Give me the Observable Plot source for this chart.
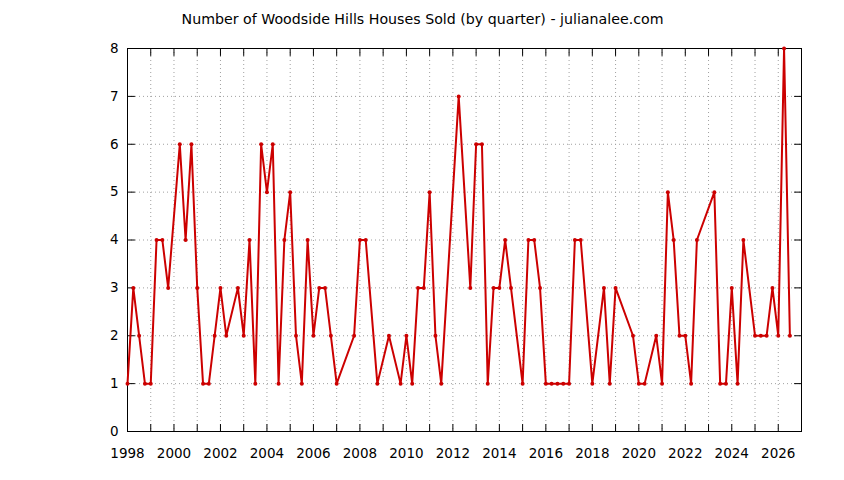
<!DOCTYPE html>
<html>
<head>
<meta charset="utf-8">
<script src="https://cdn.jsdelivr.net/npm/d3@7"></script>
<script src="https://cdn.jsdelivr.net/npm/@observablehq/plot@0.6"></script>
<style>
  html, body { margin: 0; padding: 0; background: white; }
</style>
</head>
<body>
<div id="chart"></div>
<script>
const title = "Number of Woodside Hills Houses Sold (by quarter) - julianalee.com";

const periods = [
  "1998 Q1","1998 Q2","1998 Q3","1998 Q4",
  "1999 Q1","1999 Q2","1999 Q3","1999 Q4",
  "2000 Q2","2000 Q3","2000 Q4",
  "2001 Q1","2001 Q2","2001 Q3","2001 Q4",
  "2002 Q1","2002 Q2","2002 Q4",
  "2003 Q1","2003 Q2","2003 Q3","2003 Q4",
  "2004 Q1","2004 Q2","2004 Q3","2004 Q4",
  "2005 Q1","2005 Q2","2005 Q3","2005 Q4",
  "2006 Q1","2006 Q2","2006 Q3","2006 Q4",
  "2007 Q1","2007 Q4",
  "2008 Q1","2008 Q2","2008 Q4",
  "2009 Q2","2009 Q4",
  "2010 Q1","2010 Q2","2010 Q3","2010 Q4",
  "2011 Q1","2011 Q2","2011 Q3",
  "2012 Q2","2012 Q4",
  "2013 Q1","2013 Q2","2013 Q3","2013 Q4",
  "2014 Q1","2014 Q2","2014 Q3",
  "2015 Q1","2015 Q2","2015 Q3","2015 Q4",
  "2016 Q1","2016 Q2","2016 Q3","2016 Q4",
  "2017 Q1","2017 Q2","2017 Q3",
  "2018 Q1","2018 Q3","2018 Q4",
  "2019 Q1","2019 Q4",
  "2020 Q1","2020 Q2","2020 Q4",
  "2021 Q1","2021 Q2","2021 Q3","2021 Q4",
  "2022 Q1","2022 Q2","2022 Q3",
  "2023 Q2","2023 Q3","2023 Q4",
  "2024 Q1","2024 Q2","2024 Q3",
  "2025 Q1","2025 Q2","2025 Q3","2025 Q4",
  "2026 Q1","2026 Q2","2026 Q3"
];

const sold = [
  1,3,2,1,
  1,4,4,3,
  6,4,6,
  3,1,1,2,
  3,2,3,
  2,4,1,6,
  5,6,1,4,
  5,2,1,4,
  2,3,3,2,
  1,2,
  4,4,1,
  2,1,
  2,1,3,3,
  5,2,1,
  7,3,
  6,6,1,3,
  3,4,3,
  1,4,4,3,
  1,1,1,1,
  1,4,4,
  1,3,1,
  3,2,
  1,1,2,
  1,5,4,2,
  2,1,4,
  5,1,1,
  3,1,4,
  2,2,2,3,
  2,8,2
];

const yearTicks = d3.range(1998, 2028);
const yTicks = [0,1,2,3,4,5,6,7,8];
const yGrid = [1,2,3,4,5,6,7];

const data = periods.map((p, i) => {
  const [yr, q] = p.split(" Q");
  return { t: +yr + (+q - 1) / 4, v: sold[i] };
});

const red = "#cc0000";
const gridStyle = { stroke: "#a0a0a0", strokeOpacity: 1, strokeDasharray: "1,3" };
const tickShape = { draw(context, l) { context.moveTo(0, 0); context.lineTo(0, -l); } };
const tickStyle = { length: 7, anchor: "start", shape: tickShape, stroke: "black", strokeWidth: 1 };

const chart = Plot.plot({
  width: 844,
  height: 480,
  marginLeft: 127,
  marginRight: 43,
  marginTop: 48,
  marginBottom: 49,
  style: { fontFamily: "'DejaVu Sans', sans-serif", fontSize: "13.5px", background: "white", color: "black" },
  x: { domain: [1998, 2027], label: null },
  y: { domain: [0, 8], label: null },
  marks: [
    Plot.gridX(yearTicks.slice(1), gridStyle),
    Plot.gridY(yGrid, gridStyle),
    Plot.axisX(yearTicks, { anchor: "bottom", tickSize: 0, tickPadding: 16.5, tickFormat: d => d % 2 === 0 ? String(d) : "", label: null }),
    Plot.axisY(yTicks, { anchor: "left", tickSize: 0, tickPadding: 9, tickFormat: d => String(d), label: null }),
    Plot.vector(yearTicks, { x: d => d, frameAnchor: "bottom", rotate: 0, ...tickStyle }),
    Plot.vector(yearTicks, { x: d => d, frameAnchor: "top", rotate: 180, ...tickStyle }),
    Plot.vector(yTicks, { y: d => d, frameAnchor: "left", rotate: 90, ...tickStyle }),
    Plot.vector(yTicks, { y: d => d, frameAnchor: "right", rotate: -90, ...tickStyle }),
    Plot.frame({ stroke: "black", strokeWidth: 1 }),
    Plot.line(data, { x: "t", y: "v", stroke: red, strokeWidth: 2 }),
    Plot.dot(data, { x: "t", y: "v", r: 2, fill: red, stroke: "none" }),
    Plot.text([title], { frameAnchor: "top", lineAnchor: "middle", dx: -42, dy: -29, text: d => d, fontSize: 14.2, fill: "black" })
  ]
});

document.getElementById("chart").appendChild(chart);
</script>
</body>
</html>
